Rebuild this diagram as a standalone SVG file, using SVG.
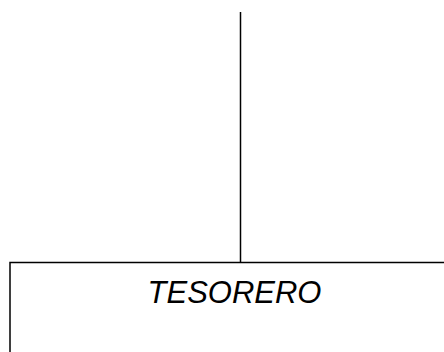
<svg xmlns="http://www.w3.org/2000/svg" width="444" height="352" viewBox="0 0 444 352">
<style>
.ln{stroke:#000;stroke-width:1.5;fill:none}
.lbl{font-family:"Liberation Sans",Arial,sans-serif;font-style:italic;font-size:31px;fill:#000}
</style>
<rect width="444" height="352" fill="#fff"/>
<g id="connectors">
<line class="ln" x1="240.5" y1="12" x2="240.5" y2="262.5"/>
</g>
<g id="tesorero">
<rect class="ln" x="10" y="262.5" width="450" height="120"/>
<text class="lbl" x="234.5" y="302.5" text-anchor="middle">TESORERO</text>
</g>
</svg>
